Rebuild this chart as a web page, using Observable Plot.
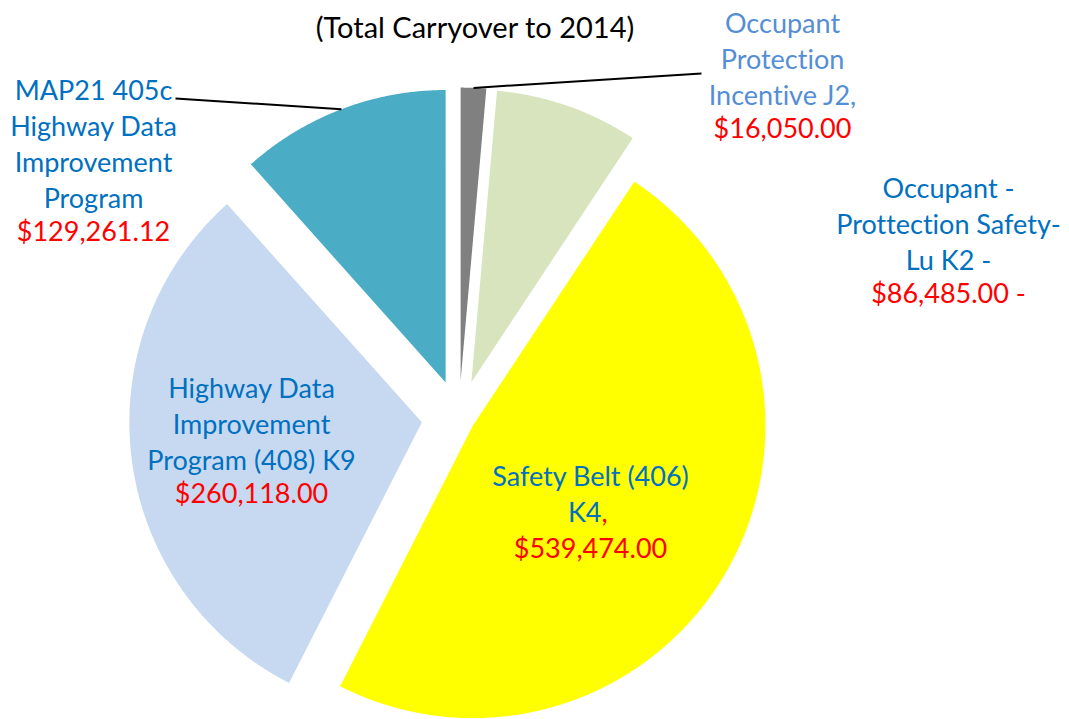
<!DOCTYPE html>
<html>
<head>
<meta charset="utf-8">
<script src="https://cdn.jsdelivr.net/npm/d3@7"></script>
<script src="https://cdn.jsdelivr.net/npm/@observablehq/plot@0.6"></script>
<style>
  html, body { margin: 0; padding: 0; background: #ffffff; }
  #chart svg { display: block; }
  #chart svg text { font-variant-ligatures: none; font-feature-settings: "liga" 0; }
</style>
</head>
<body>
<div id="chart"></div>
<script>
// ---------- data ----------
const title = "(Total Carryover to 2014)";
const categories = ["J2", "K2", "K4", "K9", "405c"];
const labelLines = [
  ["Occupant", "Protection", "Incentive J2,"],
  ["Occupant -", "Prottection Safety-", "Lu K2 -"],
  ["Safety Belt (406)", "K4"],
  ["Highway Data", "Improvement", "Program (408) K9"],
  ["MAP21 405c", "Highway Data", "Improvement", "Program"]
];
const amounts = [16050.00, 86485.00, 539474.00, 260118.00, 129261.12];
const valueSuffix = ["", " -", "", "", ""];
// slice sizes as drawn in the picture (percent of the circle)
const slicePercent = [1.4, 7.9, 48.2, 30.9, 11.6];

// ---------- styles & layout ----------
const sliceColors = ["#808080", "#D7E4BD", "#FFFF00", "#C6D9F1", "#4BACC6"];
const nameColors = ["#558ED5", "#0070C0", "#0070C0", "#0070C0", "#0070C0"];
const valueColor = "#FF0000";
const pieCenter = {x: 458.5, y: 417};
const pieRadius = 292.5;
const explode = [0.128, 0.128, 0.055, 0.128, 0.128];
const lineStep = 36;
const labelPos = [
  {x: 782, y: 21}, {x: 948, y: 186}, {x: 590, y: 477}, {x: 251, y: 386}, {x: 93, y: 88}
];
const leaderEnds = {0: {x: 701, y: 73}, 4: {x: 175, y: 98}};
const FONT = "Lato, 'Open Sans', sans-serif";
const FS = 27;
const TITLE_FS = 29;

// ---------- geometry from data ----------
const rows = categories.map((c, i) => ({i, cat: c, share: slicePercent[i], amount: amounts[i]}));
const arcs = d3.pie().sort(null).value(d => d.share)(rows);

const slicePts = [];
const apex = [];
arcs.forEach((a, i) => {
  const mid = (a.startAngle + a.endAngle) / 2;
  const off = explode[i] * pieRadius;
  const ax = pieCenter.x + off * Math.sin(mid);
  const ay = pieCenter.y - off * Math.cos(mid);
  apex[i] = {x: ax, y: ay, mid};
  slicePts.push({x: ax, y: ay, s: i, color: sliceColors[i]});
  const n = Math.max(4, Math.ceil((a.endAngle - a.startAngle) / 0.005));
  for (let k = 0; k <= n; k++) {
    const t = a.startAngle + (a.endAngle - a.startAngle) * k / n;
    slicePts.push({x: ax + pieRadius * Math.sin(t), y: ay - pieRadius * Math.cos(t), s: i, color: sliceColors[i]});
  }
  slicePts.push({x: ax, y: ay, s: i, color: sliceColors[i]});
});

const leaders = Object.keys(leaderEnds).map(k => {
  const i = +k, p = apex[i];
  return {x1: leaderEnds[i].x, y1: leaderEnds[i].y,
          x2: p.x + pieRadius * Math.sin(p.mid), y2: p.y - pieRadius * Math.cos(p.mid)};
});

const fmt = d3.format("$,.2f");
const nameLabels = rows.map((r, i) => {
  const lines = labelLines[i];
  return {x: labelPos[i].x, y: labelPos[i].y + lineStep * (lines.length - 1) / 2,
          text: lines.join("\n"), color: nameColors[i], i};
});
const valueLabels = rows.map((r, i) => ({
  x: labelPos[i].x, y: labelPos[i].y + lineStep * labelLines[i].length,
  text: fmt(r.amount) + valueSuffix[i]
}));
// K4 label: "K4" blue followed by a red comma
const k4 = 2;
const otherNames = nameLabels.filter(d => d.i !== k4);
const k4Line1 = [{x: labelPos[k4].x, y: labelPos[k4].y, text: labelLines[k4][0]}];
const k4Join = [{x: labelPos[k4].x + 11, y: labelPos[k4].y + lineStep, a: labelLines[k4][1], b: ","}];

const chart = Plot.plot({
  width: 1069,
  height: 719,
  margin: 0,
  x: {domain: [0, 1069], range: [0, 1069], axis: null},
  y: {domain: [0, 719], range: [0, 719], axis: null},
  color: {type: "identity"},
  style: {background: "#ffffff", fontFamily: FONT},
  marks: [
    Plot.line(slicePts, {x: "x", y: "y", z: "s", fill: "color", stroke: "none", curve: "linear"}),
    Plot.link(leaders, {x1: "x1", y1: "y1", x2: "x2", y2: "y2", stroke: "#000000", strokeWidth: 2}),
    Plot.text(otherNames, {x: "x", y: "y", text: "text", fill: "color", fontSize: FS, fontFamily: FONT, lineHeight: lineStep / FS, textAnchor: "middle"}),
    Plot.text(k4Line1, {x: "x", y: "y", text: "text", fill: nameColors[k4], fontSize: FS, fontFamily: FONT, textAnchor: "middle"}),
    Plot.text(k4Join, {x: "x", y: "y", text: "a", fill: nameColors[k4], fontSize: FS, fontFamily: FONT, textAnchor: "end"}),
    Plot.text(k4Join, {x: "x", y: "y", text: "b", fill: valueColor, fontSize: FS, fontFamily: FONT, textAnchor: "start"}),
    Plot.text(valueLabels, {x: "x", y: "y", text: "text", fill: valueColor, fontSize: FS, fontFamily: FONT, textAnchor: "middle"}),
    Plot.text([title], {x: 474.5, y: 28, text: d => d, fill: "#000000", fontSize: TITLE_FS, fontFamily: FONT, textAnchor: "middle"})
  ]
});
document.getElementById("chart").appendChild(chart);
</script>
</body>
</html>
